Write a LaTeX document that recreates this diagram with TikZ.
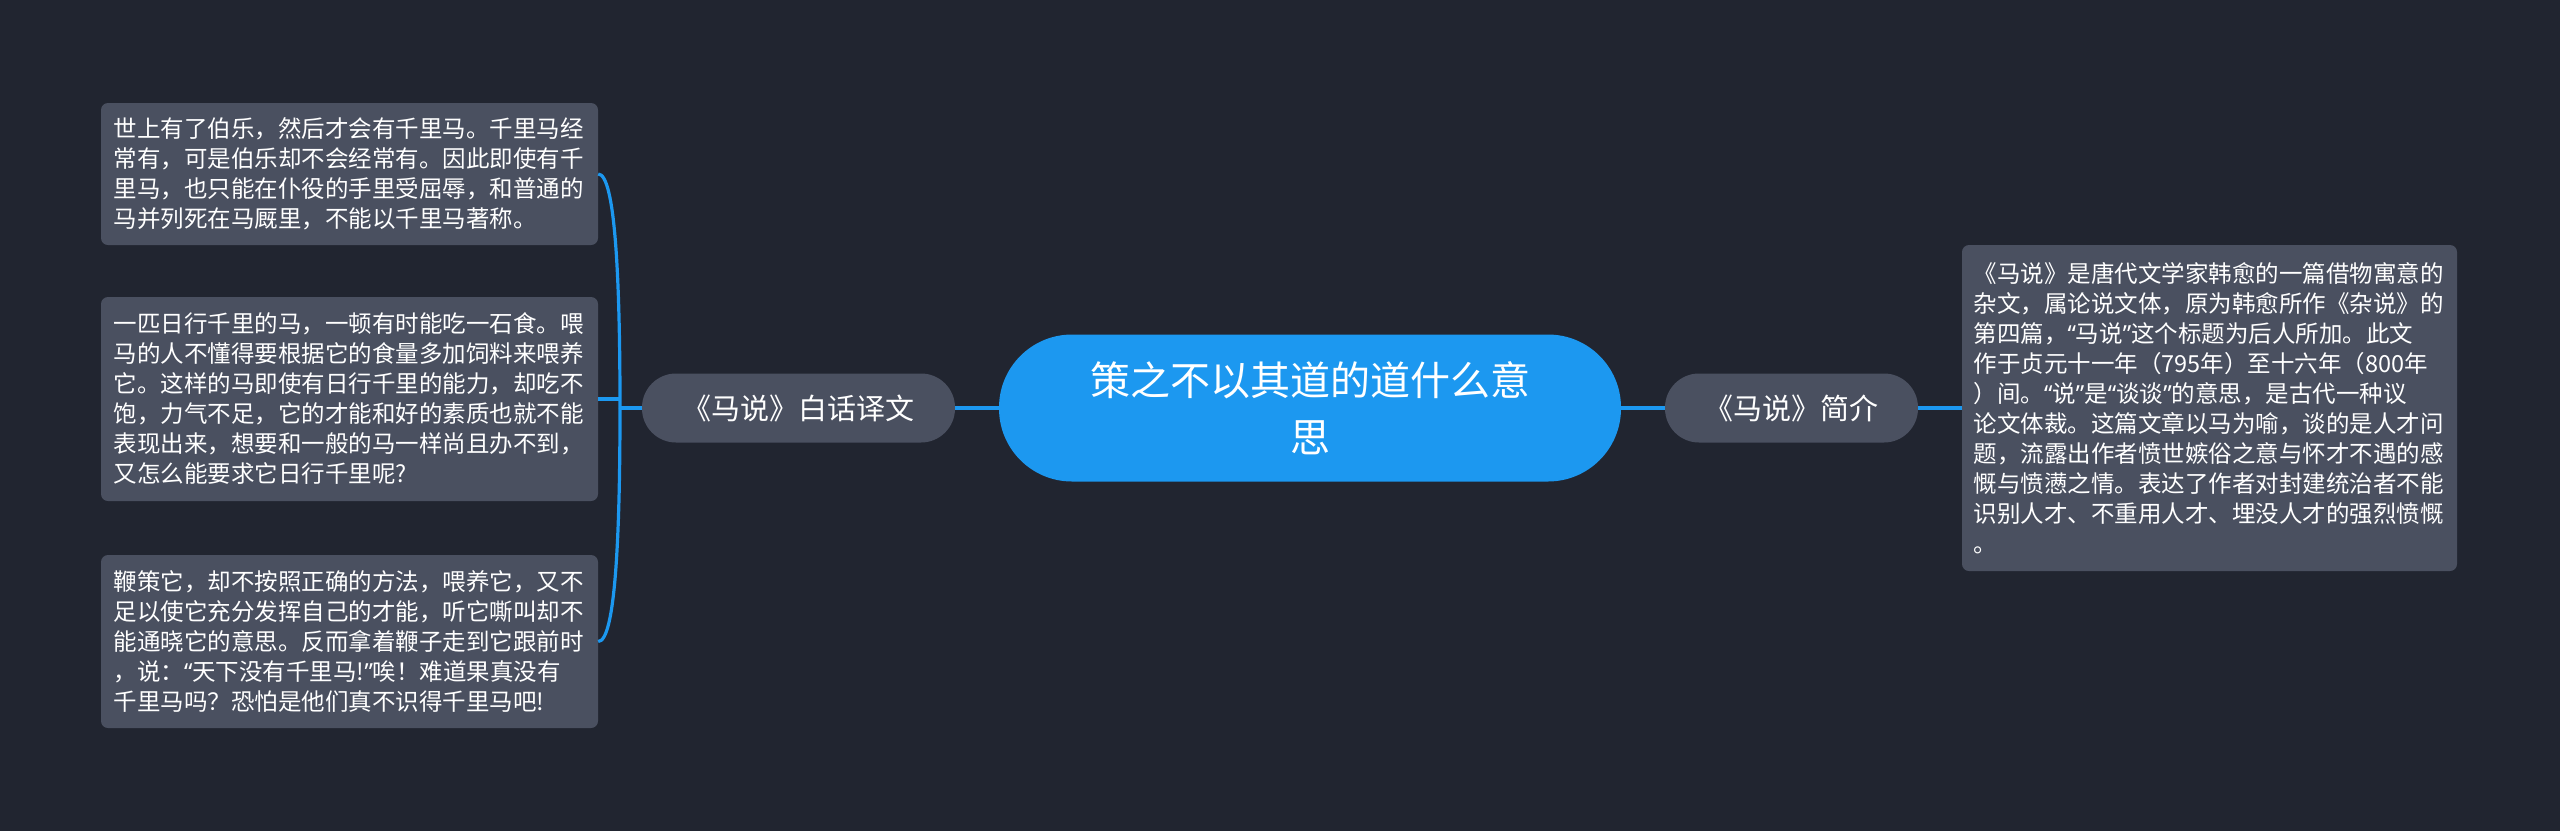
\documentclass[tikz,border=0pt]{standalone}
\usepackage{fontspec}
\setmainfont{Noto Sans CJK SC}
\newfontfamily\qfont{Noto Sans}
\newcommand{\oq}{{\qfont “}}
\newcommand{\cq}{{\qfont ”}}
\usepackage{tikz}
\usetikzlibrary{calc}
\definecolor{bgnavy}{RGB}{33,37,48}
\definecolor{boxgray}{RGB}{74,80,96}
\definecolor{mapblue}{RGB}{28,152,240}

\begin{document}
\begin{tikzpicture}[x=1pt,y=-1pt,
  link/.style={draw=mapblue,line width=3.2pt},
  textbox/.style={fill=boxgray,rounded corners=7pt,text=white,inner sep=0pt,
    minimum width=497pt,text width=472pt,align=left,
    font=\fontsize{23.5pt}{30pt}\selectfont},
  topic/.style={fill=boxgray,rounded corners=34pt,text=white,inner sep=0pt,
    minimum height=69pt,font=\fontsize{29pt}{34pt}\selectfont},
  root/.style={fill=mapblue,rounded corners=73pt,text=white,inner sep=0pt,
    minimum width=622pt,minimum height=147pt,text width=460pt,align=center,
    font=\fontsize{40pt}{57pt}\selectfont}]
  \useasboundingbox (0,0) rectangle (2560,831);
  \path[fill=bgnavy] (0,0) rectangle (2560,831);

  \node[root] (main) at (1310,408) {策之不以其道的道什么意\\思};
  \node[topic,minimum width=313pt] (yiwen) at (798.5,408) {《马说》白话译文};
  \node[topic,minimum width=253pt] (jianjie) at (1791.5,408) {《马说》简介};

  \node[textbox,minimum height=142pt] (boxa) at (349.5,174)
    {世上有了伯乐，然后才会有千里马。千里马经\\常有，可是伯乐却不会经常有。因此即使有千\\里马，也只能在仆役的手里受屈辱，和普通的\\马并列死在马厩里，不能以千里马著称。};
  \node[textbox,minimum height=204pt] (boxb) at (349.5,399)
    {一匹日行千里的马，一顿有时能吃一石食。喂\\马的人不懂得要根据它的食量多加饲料来喂养\\它。这样的马即使有日行千里的能力，却吃不\\饱，力气不足，它的才能和好的素质也就不能\\表现出来，想要和一般的马一样尚且办不到，\\又怎么能要求它日行千里呢?};
  \node[textbox,minimum height=173pt] (boxc) at (349.5,641.5)
    {鞭策它，却不按照正确的方法，喂养它，又不\\足以使它充分发挥自己的才能，听它嘶叫却不\\能通晓它的意思。反而拿着鞭子走到它跟前时\\，说：\oq 天下没有千里马!\cq 唉！难道果真没有\\千里马吗？恐怕是他们真不识得千里马吧!};
  \node[textbox,minimum width=495pt,minimum height=326pt] (boxd) at (2209.5,408)
    {《马说》是唐代文学家韩愈的一篇借物寓意的\\杂文，属论说文体，原为韩愈所作《杂说》的\\第四篇，\oq 马说\cq 这个标题为后人所加。此文\\作于贞元十一年（795年）至十六年（800年\\）间。\oq 说\cq 是\oq 谈谈\cq 的意思，是古代一种议\\论文体裁。这篇文章以马为喻，谈的是人才问\\题，流露出作者愤世嫉俗之意与怀才不遇的感\\慨与愤懑之情。表达了作者对封建统治者不能\\识别人才、不重用人才、埋没人才的强烈愤慨\\。};

  \coordinate (fork) at (620,408);
  \draw[link] (main.west) -- (yiwen.east);
  \draw[link] (main.east) -- (jianjie.west);
  \draw[link] (jianjie.east) -- (boxd.west);
  \draw[link] (yiwen.west) -- (fork);
  \draw[link] (boxa.east) .. controls +(17,0) and +(0,-130) .. (fork);
  \draw[link] (boxb.east) -- (fork |- boxb.east);
  \draw[link] (boxc.east) .. controls +(17,0) and +(0,130) .. (fork);
\end{tikzpicture}
\end{document}
